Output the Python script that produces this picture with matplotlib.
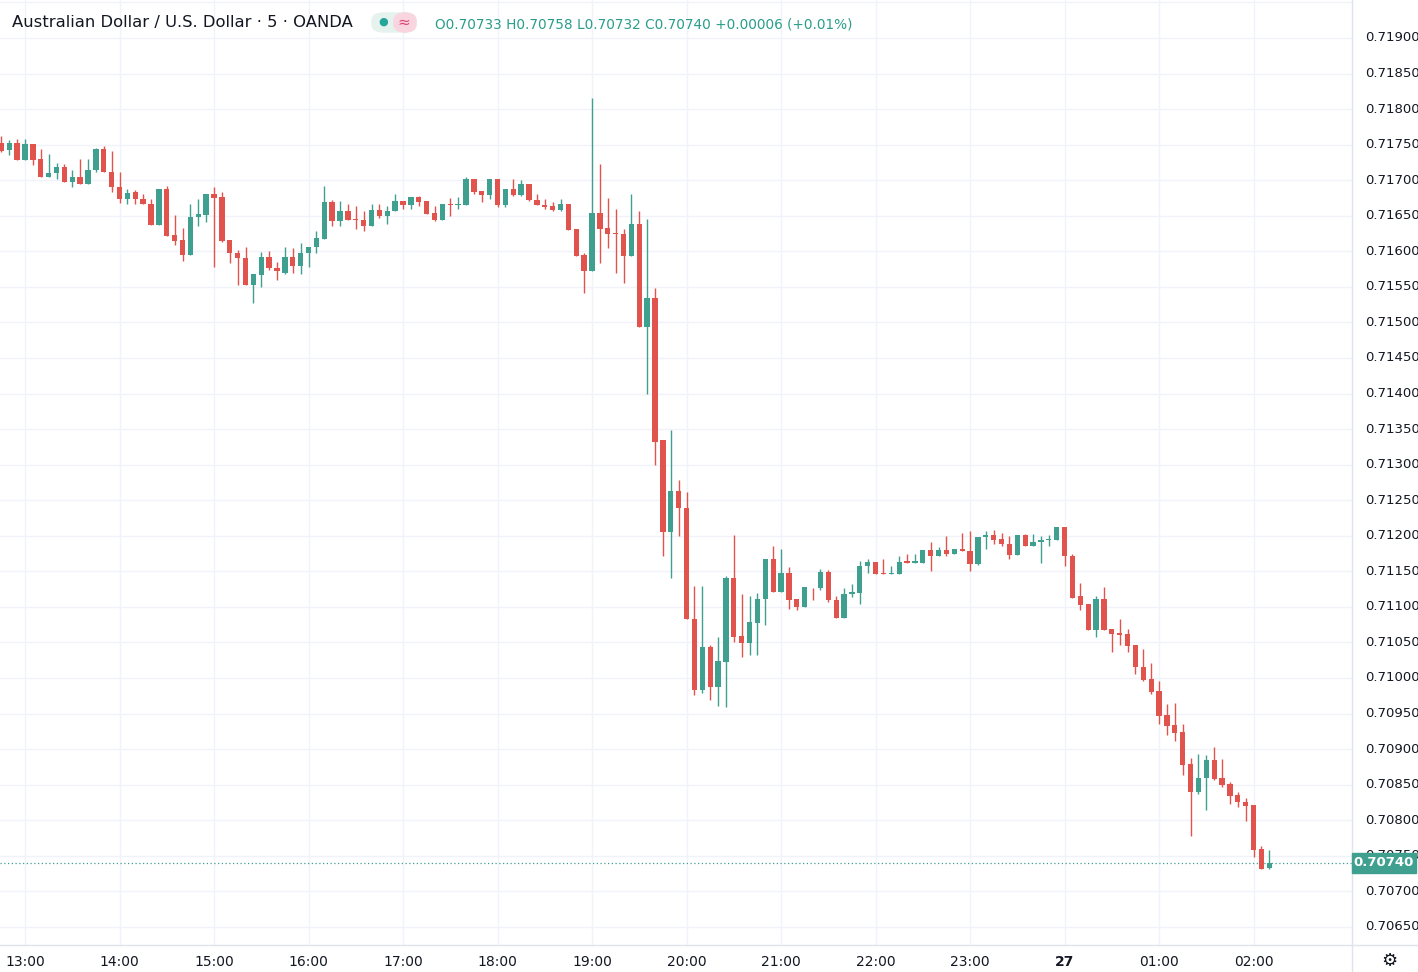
import matplotlib
matplotlib.use("Agg")
import matplotlib.pyplot as plt
from matplotlib.patches import FancyBboxPatch
import numpy as np

# OHLC of 5-minute candles, first candle 12:45
opens = [0.71752,0.71742,0.71752,0.71728,0.71751,0.71730,0.71704,0.71710,0.71719,0.71697,
 0.71704,0.71695,0.71714,0.71744,0.71712,0.71690,0.71673,0.71683,0.71673,0.71667,
 0.71637,0.71688,0.71623,0.71616,0.71595,0.71648,0.71651,0.71681,0.71677,0.71616,
 0.71598,0.71591,0.71553,0.71567,0.71592,0.71577,0.71570,0.71592,0.71580,0.71597,
 0.71606,0.71618,0.71669,0.71643,0.71657,0.71646,0.71644,0.71635,0.71658,0.71649,
 0.71656,0.71671,0.71665,0.71677,0.71671,0.71654,0.71644,0.71667,0.71665,0.71665,
 0.71702,0.71685,0.71679,0.71702,0.71665,0.71688,0.71679,0.71695,0.71672,0.71665,
 0.71664,0.71658,0.71667,0.71632,0.71595,0.71572,0.71654,0.71633,0.71626,0.71625,
 0.71594,0.71639,0.71493,0.71534,0.71334,0.71205,0.71263,0.71239,0.71083,0.70983,
 0.71044,0.70987,0.71023,0.71141,0.71059,0.71049,0.71078,0.71111,0.71167,0.71121,
 0.71148,0.71111,0.71100,0.71127,0.71126,0.71149,0.71110,0.71085,0.71118,0.71120,
 0.71157,0.71163,0.71147,0.71146,0.71146,0.71164,0.71162,0.71162,0.71180,0.71171,
 0.71180,0.71175,0.71181,0.71179,0.71160,0.71198,0.71201,0.71195,0.71189,0.71173,
 0.71201,0.71186,0.71191,0.71194,0.71194,0.71212,0.71171,0.71115,0.71104,0.71068,
 0.71111,0.71069,0.71063,0.71062,0.71046,0.71016,0.70999,0.70982,0.70948,0.70934,
 0.70924,0.70879,0.70839,0.70860,0.70885,0.70859,0.70851,0.70836,0.70825,0.70821,
 0.70759,0.70733]
highs = [0.71762,0.71757,0.71758,0.71758,0.71751,0.71744,0.71737,0.71724,0.71723,0.71715,
 0.71730,0.71730,0.71745,0.71748,0.71741,0.71711,0.71687,0.71686,0.71680,0.71673,
 0.71688,0.71692,0.71651,0.71633,0.71667,0.71673,0.71681,0.71690,0.71684,0.71616,
 0.71602,0.71606,0.71568,0.71599,0.71601,0.71585,0.71606,0.71604,0.71612,0.71606,
 0.71628,0.71692,0.71672,0.71671,0.71667,0.71664,0.71657,0.71667,0.71667,0.71664,
 0.71681,0.71671,0.71677,0.71678,0.71671,0.71664,0.71667,0.71675,0.71677,0.71704,
 0.71702,0.71685,0.71702,0.71702,0.71688,0.71702,0.71700,0.71695,0.71681,0.71674,
 0.71669,0.71674,0.71667,0.71632,0.71597,0.71815,0.71723,0.71675,0.71660,0.71632,
 0.71681,0.71657,0.71645,0.71548,0.71334,0.71349,0.71279,0.71261,0.71130,0.71130,
 0.71047,0.71057,0.71144,0.71201,0.71118,0.71115,0.71120,0.71167,0.71185,0.71181,
 0.71156,0.71111,0.71128,0.71127,0.71153,0.71152,0.71115,0.71126,0.71132,0.71164,
 0.71167,0.71163,0.71167,0.71158,0.71172,0.71175,0.71175,0.71180,0.71191,0.71184,
 0.71200,0.71181,0.71204,0.71206,0.71198,0.71206,0.71208,0.71204,0.71199,0.71201,
 0.71203,0.71203,0.71199,0.71201,0.71212,0.71212,0.71174,0.71134,0.71104,0.71115,
 0.71128,0.71069,0.71083,0.71069,0.71046,0.71041,0.71021,0.70996,0.70963,0.70965,
 0.70935,0.70888,0.70893,0.70892,0.70903,0.70886,0.70854,0.70839,0.70831,0.70821,
 0.70764,0.70758]
lows = [0.71739,0.71736,0.71728,0.71728,0.71721,0.71704,0.71704,0.71701,0.71697,0.71690,
 0.71695,0.71695,0.71712,0.71711,0.71684,0.71668,0.71667,0.71667,0.71666,0.71637,
 0.71637,0.71622,0.71609,0.71587,0.71595,0.71636,0.71641,0.71578,0.71613,0.71583,
 0.71553,0.71553,0.71528,0.71550,0.71574,0.71560,0.71568,0.71570,0.71568,0.71578,
 0.71598,0.71618,0.71636,0.71636,0.71644,0.71631,0.71629,0.71635,0.71647,0.71639,
 0.71656,0.71660,0.71660,0.71664,0.71653,0.71643,0.71644,0.71650,0.71660,0.71665,
 0.71681,0.71669,0.71674,0.71663,0.71662,0.71678,0.71678,0.71671,0.71665,0.71660,
 0.71657,0.71657,0.71630,0.71594,0.71542,0.71572,0.71584,0.71605,0.71570,0.71556,
 0.71594,0.71493,0.71400,0.71299,0.71172,0.71141,0.71199,0.71083,0.70976,0.70979,
 0.70969,0.70960,0.70959,0.71050,0.71029,0.71032,0.71032,0.71075,0.71121,0.71121,
 0.71097,0.71095,0.71100,0.71109,0.71124,0.71107,0.71085,0.71084,0.71114,0.71104,
 0.71147,0.71146,0.71146,0.71146,0.71146,0.71162,0.71162,0.71162,0.71150,0.71171,
 0.71171,0.71175,0.71178,0.71151,0.71159,0.71182,0.71189,0.71186,0.71167,0.71173,
 0.71186,0.71186,0.71161,0.71185,0.71194,0.71158,0.71112,0.71096,0.71067,0.71057,
 0.71068,0.71036,0.71046,0.71036,0.71006,0.70996,0.70978,0.70935,0.70920,0.70911,
 0.70864,0.70778,0.70837,0.70815,0.70857,0.70847,0.70823,0.70819,0.70799,0.70748,
 0.70732,0.70732]
closes = [0.71741,0.71752,0.71728,0.71751,0.71729,0.71704,0.71710,0.71719,0.71697,0.71704,
 0.71695,0.71715,0.71744,0.71711,0.71690,0.71673,0.71682,0.71673,0.71666,0.71637,
 0.71688,0.71622,0.71615,0.71595,0.71648,0.71653,0.71681,0.71675,0.71615,0.71597,
 0.71590,0.71553,0.71568,0.71592,0.71576,0.71572,0.71592,0.71580,0.71598,0.71606,
 0.71619,0.71669,0.71643,0.71657,0.71644,0.71644,0.71635,0.71658,0.71649,0.71657,
 0.71671,0.71665,0.71677,0.71669,0.71653,0.71644,0.71667,0.71665,0.71667,0.71702,
 0.71684,0.71679,0.71702,0.71665,0.71688,0.71679,0.71695,0.71672,0.71665,0.71662,
 0.71658,0.71667,0.71630,0.71594,0.71573,0.71654,0.71632,0.71624,0.71625,0.71594,
 0.71639,0.71493,0.71534,0.71332,0.71205,0.71263,0.71239,0.71083,0.70983,0.71044,
 0.70987,0.71024,0.71141,0.71058,0.71049,0.71079,0.71111,0.71167,0.71121,0.71148,
 0.71110,0.71100,0.71128,0.71126,0.71149,0.71109,0.71085,0.71118,0.71121,0.71157,
 0.71163,0.71146,0.71146,0.71147,0.71163,0.71162,0.71164,0.71180,0.71171,0.71180,
 0.71175,0.71181,0.71178,0.71160,0.71198,0.71201,0.71194,0.71188,0.71173,0.71201,
 0.71186,0.71191,0.71194,0.71195,0.71212,0.71171,0.71113,0.71103,0.71068,0.71111,
 0.71068,0.71062,0.71061,0.71045,0.71015,0.70997,0.70980,0.70947,0.70933,0.70923,
 0.70878,0.70839,0.70860,0.70885,0.70858,0.70850,0.70834,0.70825,0.70820,0.70758,
 0.70732,0.70740]
time_labels = ["13:00","14:00","15:00","16:00","17:00","18:00","19:00","20:00",
               "21:00","22:00","23:00","27","01:00","02:00"]
price_ticks = [0.70650,0.70700,0.70800,0.70850,0.70900,0.70950,0.71000,0.71050,
               0.71100,0.71150,0.71200,0.71250,0.71300,0.71350,0.71400,0.71450,
               0.71500,0.71550,0.71600,0.71650,0.71700,0.71750,0.71800,0.71850,0.71900]
last_price = 0.70740

UP = "#3fa08f"
DN = "#e0544d"
W, H = 1418, 972
fig = plt.figure(figsize=(W/100, H/100), dpi=100)
ax = fig.add_axes([0, 27/H, 1352/W, 1 - 27/H])
o = np.array(opens); h = np.array(highs); l = np.array(lows); c = np.array(closes)
x = np.arange(len(o))
cols = np.where(c >= o, UP, DN)
ax.vlines(x, l, h, colors=cols, linewidth=1.0, zorder=3)
body_lo = np.minimum(o, c)
body_h = np.maximum(np.abs(c - o), 0.000012)
ax.bar(x, body_h, bottom=body_lo, width=0.68, color=cols, edgecolor=cols, linewidth=0, zorder=4)

ax.set_xlim(-0.18, 171.5)
ax.set_ylim(0.706245, 0.719534)
tick_pos = [3 + 12*k for k in range(len(time_labels))]
for tp in tick_pos:
    ax.axvline(tp, color="#f0f3fa", lw=1, zorder=0)
for p in np.arange(0.7065, 0.7195, 0.0005):
    ax.axhline(p, color="#f0f3fa", lw=1, zorder=0)
ax.set_xticks([]); ax.set_yticks([])
for s in ax.spines.values():
    s.set_visible(False)
ax.axhline(last_price, color=UP, lw=0.9, ls=(0, (1, 2)), zorder=2)

for tp, lab in zip(tick_pos, time_labels):
    fx = (tp + 0.18) / 171.68 * 1352 / W
    fig.text(fx, 10/H, lab, ha="center", va="center", fontsize=10,
             color="#131722", fontweight="bold" if lab == "27" else "normal")
fig.add_artist(plt.Line2D([1352/W, 1352/W], [0, 1], color="#e0e3eb", lw=1))
fig.add_artist(plt.Line2D([0, 1], [27/H, 27/H], color="#e0e3eb", lw=1))

def py(p):
    return ax.transData.transform((0, p))[1] / H
for p in price_ticks:
    fig.text(1365/W, py(p), f"{p:.5f}", ha="left", va="center", fontsize=9.5, color="#131722")
# partly hidden behind the last-price tag, as in the reference
fig.text(1365/W, py(0.7075), "0.70750", ha="left", va="center", fontsize=9.5,
         color="#131722", zorder=1)
ly = py(last_price)
fig.add_artist(FancyBboxPatch((1352/W, ly - 10/H), 64/W, 20/H, boxstyle="square,pad=0",
                              transform=fig.transFigure, color=UP, zorder=5))
fig.text(1384/W, ly, "0.70740", ha="center", va="center", fontsize=9.5, color="white",
         fontweight="bold", zorder=6)
fig.text(1389/W, 11/H, "\u2699", ha="center", va="center", fontsize=13, color="#131722")

fig.text(12/W, 1 - 23/H, "Australian Dollar / U.S. Dollar \u00b7 5 \u00b7 OANDA", ha="left",
         va="center", fontsize=11.8, color="#131722")
fig.add_artist(FancyBboxPatch((372/W, 1 - 32/H), 44/W, 19/H, boxstyle="round,pad=0,rounding_size=0.008",
                              transform=fig.transFigure, color="#e6f2ee", zorder=5))
fig.add_artist(FancyBboxPatch((394/W, 1 - 32/H), 22/W, 19/H, boxstyle="round,pad=0,rounding_size=0.008",
                              transform=fig.transFigure, color="#f9d5e0", zorder=5))
fig.text(383/W, 1 - 22/H, "\u25cf", ha="center", va="center", fontsize=8, color="#26a69a", zorder=6)
fig.text(404/W, 1 - 22/H, "\u2248", ha="center", va="center", fontsize=11, color="#e0457b", zorder=6)
fig.text(435/W, 1 - 24/H, "O0.70733 H0.70758 L0.70732 C0.70740 +0.00006 (+0.01%)",
         ha="left", va="center", fontsize=9.8, color="#2a9d8a")

fig.savefig("out.png", dpi=100, facecolor="white")
